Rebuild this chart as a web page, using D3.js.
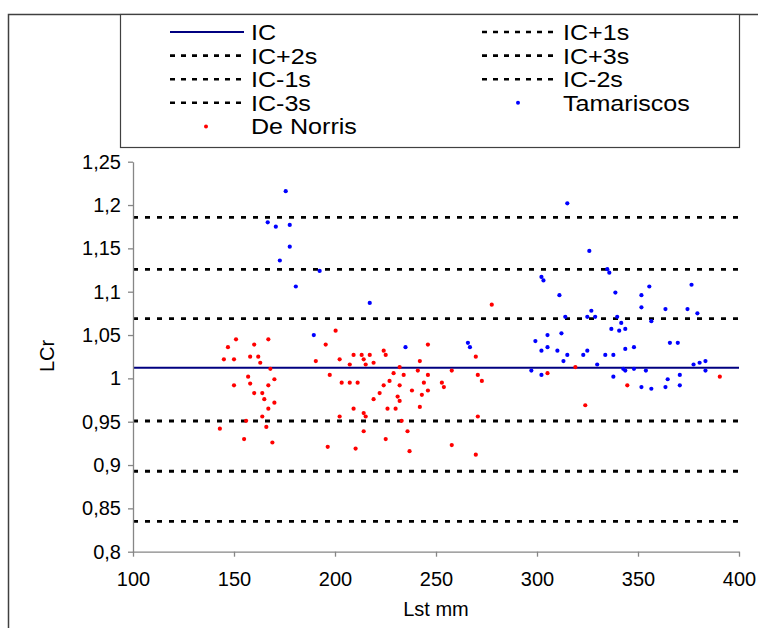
<!DOCTYPE html>
<html><head><meta charset="utf-8">
<script src="https://cdn.jsdelivr.net/npm/d3@7"></script>
<style>body{margin:0;background:#fff}svg{display:block}text{font-family:"Liberation Sans",Arial,sans-serif}</style>
</head><body><svg id="c" width="758" height="628"></svg>
<script>
// ---- data ----
const xTicks = [100,150,200,250,300,350,400];
const yTicks = [0.8,0.85,0.9,0.95,1,1.05,1.1,1.15,1.2,1.25];
const refNames = ["IC","IC+1s","IC+2s","IC+3s","IC-1s","IC-2s","IC-3s"];
const refValues = [1.0123,1.0689,1.1258,1.1858,0.9508,0.8928,0.835];
const legendNames = ["IC","IC+1s","IC+2s","IC+3s","IC-1s","IC-2s","IC-3s","Tamariscos","De Norris"];
const tamX = [175.6,166.7,170.7,177.6,177.6,172.7,180.6,192.4,217.2,189.5,234.9,265.8,266.8,
  315.0,325.9,334.8,335.8,302.2,303.2,311.1,338.8,326.9,314.0,324.9,328.8,339.7,341.7,336.8,340.7,343.7,
  305.2,312.1,299.2,302.2,305.2,310.1,315.0,313.1,322.9,324.9,333.8,337.8,343.7,329.8,297.2,302.2,337.8,342.7,343.7,
  355.6,351.7,376.5,351.7,363.6,374.5,379.4,356.6,348.0,365.8,369.7,377.5,380.5,383.4,348.0,353.9,383.4,370.7,364.7,351.7,356.6,363.6,370.7];
const tamY = [1.216,1.180,1.175,1.177,1.152,1.136,1.106,1.124,1.087,1.050,1.036,1.041,1.036,
  1.202,1.147,1.126,1.122,1.117,1.113,1.096,1.099,1.078,1.071,1.071,1.071,1.071,1.064,1.057,1.055,1.057,
  1.050,1.052,1.043,1.032,1.036,1.032,1.027,1.020,1.027,1.032,1.027,1.027,1.034,1.016,1.009,1.004,1.002,1.011,1.009,
  1.106,1.096,1.108,1.082,1.080,1.080,1.075,1.066,1.036,1.041,1.041,1.016,1.018,1.020,1.011,1.009,1.009,1.004,0.999,0.990,0.988,0.990,0.992];
const norX = [151,147,145,150,160,167,158,162,163,168,157,170,150,158,167,160,164,165,170,167,164,156,166,143,155,169,
  200.3,195.4,190.5,202.3,209.2,213.2,217.2,214.2,224.1,225.1,219.1,207.3,215.2,232.0,229.0,234.0,197.4,227.0,203.3,207.3,
  211.2,224.1,232.0,222.1,231.0,219.1,232.0,209.2,226.0,230.0,214.2,215.2,202.3,233.0,214.2,235.9,225.1,196.4,210.2,236.9,
  277.6,246.0,242.0,269.7,241.0,257.8,246.0,270.7,272.7,244.0,252.9,253.9,238.1,246.0,243.0,242.0,270.7,257.8,269.7,
  305.2,319.0,323.9,344.7,390.5];
const norY = [1.045,1.036,1.022,1.022,1.039,1.045,1.025,1.025,1.018,1.011,1.002,0.999,0.992,0.994,0.992,0.983,0.983,0.976,0.972,0.965,0.956,0.951,0.944,0.942,0.930,0.926,
  1.055,1.039,1.020,1.022,1.027,1.027,1.027,1.022,1.032,1.027,1.018,1.016,1.016,1.013,1.006,1.004,1.004,0.997,0.995,0.995,
  0.995,0.992,0.992,0.983,0.979,0.976,0.974,0.965,0.965,0.965,0.960,0.956,0.956,0.951,0.939,0.939,0.930,0.921,0.919,0.916,
  1.085,1.039,1.020,1.025,1.009,1.009,1.004,1.004,0.997,0.995,0.995,0.990,0.986,0.986,0.981,0.967,0.956,0.923,0.912,
  1.006,1.013,0.969,0.992,1.002];

// ---- drawing ----
const svg = d3.select("#c");
const x = d3.scaleLinear().domain([100,400]).range([133,739]);
const y = d3.scaleLinear().domain([0.8,1.25]).range([551.7,161.7]);
const fmt = d => d3.format(".3~g")(d).replace(".", ",");

// outer frame
svg.append("rect").attr("x",8.5).attr("y",14.5).attr("width",760).attr("height",640)
  .attr("fill","none").attr("stroke","#404040").attr("stroke-width",1.5);

// reference lines
refValues.forEach((v,i) => {
  svg.append("line").attr("x1",x(100)).attr("x2",x(400)).attr("y1",y(v)).attr("y2",y(v))
    .attr("stroke", i===0 ? "#000080" : "#000")
    .attr("stroke-width", i===0 ? 2 : 2.8)
    .attr("stroke-dasharray", i===0 ? null : "5,7");
});

// points
const tam = tamX.map((d,i)=>[d,tamY[i]]);
const nor = norX.map((d,i)=>[d,norY[i]]);
svg.append("g").selectAll("circle").data(tam).join("circle")
  .attr("cx",d=>x(d[0])).attr("cy",d=>y(d[1])).attr("r",2.1).attr("fill","#0000ff");
svg.append("g").selectAll("circle").data(nor).join("circle")
  .attr("cx",d=>x(d[0])).attr("cy",d=>y(d[1])).attr("r",2.1).attr("fill","#ff0000");

// axes
const yAxis = svg.append("g").attr("transform",`translate(${x(100)},0)`)
  .call(d3.axisLeft(y).tickValues(yTicks).tickFormat(fmt).tickSize(5).tickSizeOuter(0).tickPadding(7));
const xAxis = svg.append("g").attr("transform",`translate(0,${y(0.8)})`)
  .call(d3.axisBottom(x).tickValues(xTicks).tickSize(5).tickSizeOuter(0).tickPadding(15));
[yAxis,xAxis].forEach(a=>{
  a.selectAll("path,line").attr("stroke","#868686").attr("stroke-width",1.3);
  a.selectAll("text").attr("fill","#000").style("font-size","20px").style("font-family","'Liberation Sans',Arial,sans-serif");
});

svg.append("text").attr("x",436).attr("y",616).attr("text-anchor","middle")
  .style("font-size","20px").text("Lst mm");
svg.append("text").attr("transform","translate(54,356) rotate(-90)").attr("text-anchor","middle")
  .style("font-size","20px").text("LCr");

// legend
svg.append("rect").attr("x",120.5).attr("y",14.5).attr("width",619).attr("height",133)
  .attr("fill","#fff").attr("stroke","#404040").attr("stroke-width",1.2);
legendNames.forEach((name,i)=>{
  const col = i%2, row = Math.floor(i/2);
  const lx = col===0 ? 170 : 482;
  const tx = col===0 ? 251 : 563;
  const cy = 32 + row*23.6;
  const g = svg.append("g");
  if (name === "Tamariscos" || name === "De Norris") {
    g.append("circle").attr("cx", lx+36).attr("cy", cy).attr("r",2)
      .attr("fill", name==="Tamariscos" ? "#0000ff" : "#ff0000");
  } else {
    g.append("line").attr("x1",lx).attr("x2",lx+74).attr("y1",cy).attr("y2",cy)
      .attr("stroke", name==="IC" ? "#000080" : "#000")
      .attr("stroke-width", name==="IC" ? 2 : 2.6)
      .attr("stroke-dasharray", name==="IC" ? null : "5,6");
  }
  g.append("text").attr("transform",`translate(${tx},${cy+8})scale(1.14,1)`)
    .style("font-size","22px").text(name);
});
</script></body></html>
